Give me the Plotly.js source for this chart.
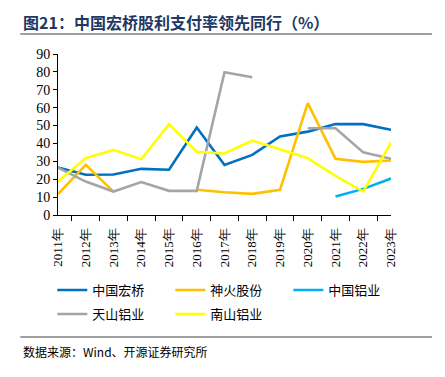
<!DOCTYPE html>
<html><head><meta charset="utf-8">
<script src="https://cdn.plot.ly/plotly-3.0.1.min.js"></script>
<style>html,body{margin:0;padding:0;background:#fff}#c{width:445px;height:377px}</style>
</head><body><div id="c"></div>
<script>
const years = ["2011年","2012年","2013年","2014年","2015年","2016年","2017年","2018年","2019年","2020年","2021年","2022年","2023年"];
const hongqiao = [26.5,22.5,22.6,25.8,25.3,48.9,28,33.6,43.9,46.6,50.8,50.8,47.6];
const shenhuo = [11.7,28,13.1,null,null,14.1,12.7,11.8,14.1,62.5,31.4,29.7,30.5];
const chalco = [null,null,null,null,null,null,null,null,null,null,10.4,14.6,20.4];
const tianshan = [26.5,18.7,13.1,18.4,13.5,13.5,79.8,77,null,48.5,48.5,35,31.4];
const nanshan = [18.7,31.8,36.4,31.2,50.8,35.3,34.4,41.6,36.8,31.8,21.9,13.1,40.5];
const names = ["中国宏桥","神火股份","中国铝业","天山铝业","南山铝业"];
const colors = ["#0070C0","#FFC000","#00B0F0","#A5A5A5","#FFFF00"];
const series = [hongqiao,shenhuo,chalco,tianshan,nanshan];
const legendOf = ["legend","legend","legend","legend2","legend2"];

const L=57.7,R=391,T=54,B=215;
const px=x=>(x-L)/(R-L), py=y=>(B-y)/(B-T);
const SERIF='Liberation Serif';
const CJK='Noto Sans CJK SC';

const traces = series.map((s,i)=>({x:years,y:s,name:names[i],type:'scatter',mode:'lines',
  line:{color:colors[i],width:2.6},connectgaps:false,legend:legendOf[i]}));

const legBase = {orientation:'h',xanchor:'left',yanchor:'middle',
  entrywidth:73,entrywidthmode:'pixels',font:{size:13,family:CJK,color:'#000'},bgcolor:'rgba(0,0,0,0)'};

const layout = {
  width:445,height:377,
  margin:{l:L,r:445-R,t:T,b:377-B},
  paper_bgcolor:'#fff',plot_bgcolor:'#fff',
  showlegend:true,
  font:{family:SERIF,color:'#000'},
  xaxis:{type:'category',showgrid:false,showline:true,linecolor:'#000',linewidth:1,
    ticks:'outside',ticklen:5,tickcolor:'#000',tickson:'boundaries',tickangle:-90,ticklabelstandoff:7,
    tickfont:{size:13,family:SERIF,color:'#000'},zeroline:false},
  yaxis:{range:[0,90],dtick:10,showgrid:false,showline:true,linecolor:'#000',linewidth:1,
    ticks:'outside',ticklen:4,tickcolor:'#000',tickfont:{size:14,family:SERIF,color:'#000'},zeroline:false},
  legend:Object.assign({},legBase,{x:px(52),y:py(290)}),
  legend2:Object.assign({},legBase,{x:px(52),y:py(314)}),
  shapes:[
    {type:'line',xref:'paper',yref:'paper',x0:px(20),x1:px(432),y0:py(34),y1:py(34),line:{color:'#7f7f7f',width:1.5}},
    {type:'line',xref:'paper',yref:'paper',x0:px(20),x1:px(432),y0:py(337),y1:py(337),line:{color:'#7f7f7f',width:1.5}}
  ],
  annotations:[
    {xref:'paper',yref:'paper',x:px(21),y:py(22),xanchor:'left',yanchor:'middle',showarrow:false,
     text:'<b>图21：中国宏桥股利支付率领先同行（%）</b>',font:{size:16,color:'#1F3864',family:CJK}},
    {xref:'paper',yref:'paper',x:px(21),y:py(351),xanchor:'left',yanchor:'middle',showarrow:false,
     text:'数据来源：Wind、开源证券研究所',font:{size:12,color:'#000',family:CJK}}
  ]
};
Plotly.newPlot('c',traces,layout,{displayModeBar:false,staticPlot:true});
</script></body></html>
